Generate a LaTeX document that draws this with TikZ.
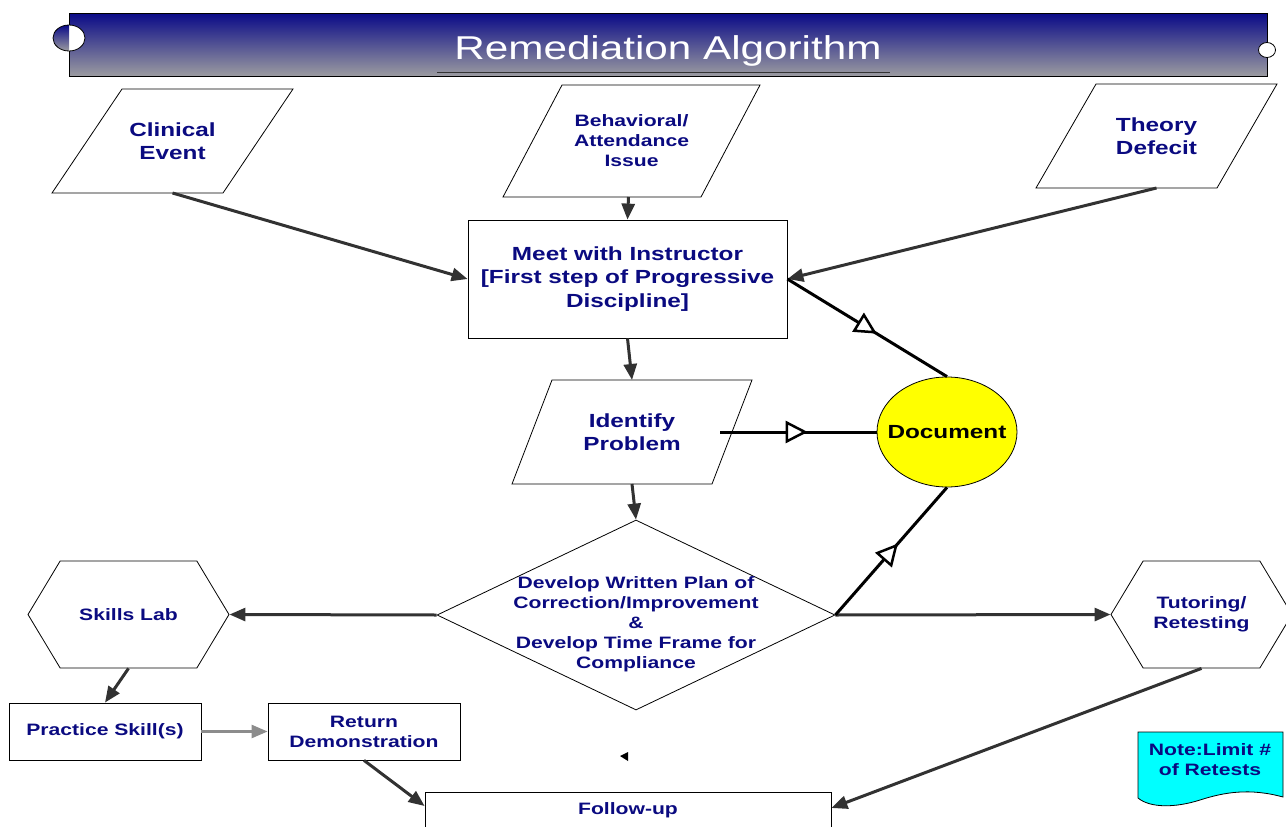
\documentclass[tikz,border=0pt]{standalone}
\usepackage{fontspec}
\setmainfont{Liberation Sans}[FakeStretch=1.28]
\usetikzlibrary{positioning,arrows.meta,decorations.markings,shapes.geometric,shapes.symbols,calc}
\definecolor{navytext}{RGB}{10,10,128}
\definecolor{barnavy}{RGB}{10,10,135}
\definecolor{bargray}{RGB}{155,155,160}
\definecolor{linkgray}{RGB}{50,50,50}
\definecolor{lightlink}{RGB}{140,140,140}
\definecolor{notecyan}{RGB}{0,255,255}
\definecolor{docyellow}{RGB}{255,255,0}
% slanted frame round a node: name, top shift
\newcommand{\paraframe}[2]{\draw[line width=0.8pt] ([xshift=#2]#1.north west) -- (#1.north east)
    -- ([xshift=-#2]#1.south east) -- (#1.south west) -- cycle;}

\begin{document}
\begin{tikzpicture}[x=1pt,y=-1pt,
    lbl/.style={font=\bfseries\fontsize{16.5}{20}\selectfont, text=navytext, align=center},
    lblbig/.style={lbl, font=\bfseries\fontsize{19}{23.5}\selectfont},
    inputnode/.style={rectangle, inner sep=0pt, outer sep=0pt},
    boxnode/.style={rectangle, draw=black, line width=0.8pt},
    hexnode/.style={signal, signal to=west and east, signal pointer angle=118, draw=black, line width=0.8pt, inner sep=0pt},
    flow/.style={-{Triangle[length=16pt,width=13pt]}, line width=3pt, draw=linkgray},
    doclink/.style={line width=3pt, draw=black, postaction={decorate},
        decoration={markings, mark=at position 0.56 with {\arrow{Triangle[open,fill=white,length=22pt,width=22pt,line width=2.5pt]}}}}
    ]
        \useasboundingbox (0,0) rectangle (1286,827);

        %Title bar
        \shade[top color=barnavy, bottom color=bargray] (69,13) rectangle (1267,76);
        \draw[line width=0.8pt] (69,13) rectangle (1267,76);
        \node[text=white, font=\fontsize{33}{40}\selectfont] (title) at (668,51) {Remediation Algorithm};
        \draw[line width=0.8pt, black!80] (437,72) -- (890,72);
        \fill[white] (69,38) ellipse [x radius=16pt, y radius=13pt];
        \begin{scope}
            \clip (50,20) rectangle (69,56);
            \shade[top color=barnavy, bottom color=bargray] (69,38) ellipse [x radius=16pt, y radius=13pt];
        \end{scope}
        \draw[line width=0.8pt] (69,38) ellipse [x radius=16pt, y radius=13pt];
        \filldraw[fill=white, line width=0.8pt] (1267,50) ellipse [x radius=8.5pt, y radius=7.5pt];

        %Nodes
        \node[inputnode, lblbig, minimum width=241pt, minimum height=104pt]
            (ce) at (172.5,141) {Clinical\\Event};
        \paraframe{ce}{70pt}
        \node[inputnode, lbl, minimum width=257pt, minimum height=112pt]
            (bh) at (631.5,141) {Behavioral/\\Attendance\\Issue};
        \paraframe{bh}{59pt}
        \node[inputnode, lblbig, minimum width=241pt, minimum height=104pt]
            (td) at (1156.5,136) {Theory\\Defecit};
        \paraframe{td}{60pt}
        \node[boxnode, lblbig, minimum width=319pt, minimum height=118pt]
            (mi) at (627.5,279) {Meet with Instructor\\{}[First step of Progressive\\Discipline]};
        \node[inputnode, lblbig, minimum width=240pt, minimum height=104pt]
            (ip) at (632,432) {Identify\\Problem};
        \paraframe{ip}{40pt}
        \node[ellipse, draw=black, line width=0.8pt, fill=docyellow, minimum width=140pt, minimum height=110pt, inner sep=0pt]
            (doc) at (947,432) {};
        \node[font=\bfseries\fontsize{19}{23.5}\selectfont] (doct) at (doc.center) {Document};
        \node[diamond, draw=black, line width=0.8pt, minimum width=398pt, minimum height=190pt, inner sep=0pt]
            (dm) at (636,615) {};
        \node[lbl] (dmt) at (636,624) {Develop Written Plan of\\Correction/Improvement\\\&\\Develop Time Frame for\\Compliance};
        \node[hexnode, lbl, minimum width=201pt, minimum height=107pt]
            (sk) at (128.5,614.5) {Skills Lab};
        \node[hexnode, lbl, minimum width=181pt, minimum height=107pt]
            (tu) at (1201.5,614.5) {Tutoring/\\Retesting};
        \node[boxnode, lbl, minimum width=192pt, minimum height=57pt]
            (ps) at (105,731.5) {Practice Skill(s)};
        \node[boxnode, lbl, minimum width=192pt, minimum height=57pt]
            (rd) at (364,731.5) {Return\\Demonstration};
        \node[boxnode, lbl, minimum width=406pt, inner ysep=6pt, text height=16pt, text depth=45pt, anchor=north]
            (fu) at (628,792) {Follow-up};

        %Note
        \filldraw[fill=notecyan, draw=black, line width=0.8pt]
            (1138,732) -- (1283,732) -- (1283,797)
            .. controls (1250,788) and (1225,792) .. (1200,800)
            .. controls (1175,808) and (1150,808) .. (1138,798) -- cycle;
        \node[lbl] (nt) at (1210,760) {Note:Limit \#\\of Retests};
        \fill (620,756) -- (628,752) -- (628,761) -- cycle;

        %Lines
        \draw[flow] (ce.south) -- (mi.west);
        \draw[flow] ([xshift=-3pt]bh.south) -- (mi.north);
        \draw[flow] (td.south) -- (mi.east);
        \draw[flow] (mi.south) -- (ip.north);
        \draw[flow] (ip.south) -- (dm.north);
        \draw[flow] (dm.west) -- (sk.east);
        \draw[flow] (dm.east) -- (tu.west);
        \draw[flow] (sk.south) -- (ps.north);
        \draw[flow, draw=lightlink, line width=2.5pt] (ps.east) -- (rd.west);
        \draw[flow] (rd.south) -- ([yshift=-14pt]fu.north west);
        \draw[flow] (tu.south) -- ([yshift=-16pt]fu.north east);

        \draw[doclink] (mi.east) -- (doc.north);
        \draw[doclink] ([xshift=-32pt]ip.east) -- (doc.west);
        \draw[doclink] (dm.east) -- (doc.south);
    \end{tikzpicture}
\end{document}
